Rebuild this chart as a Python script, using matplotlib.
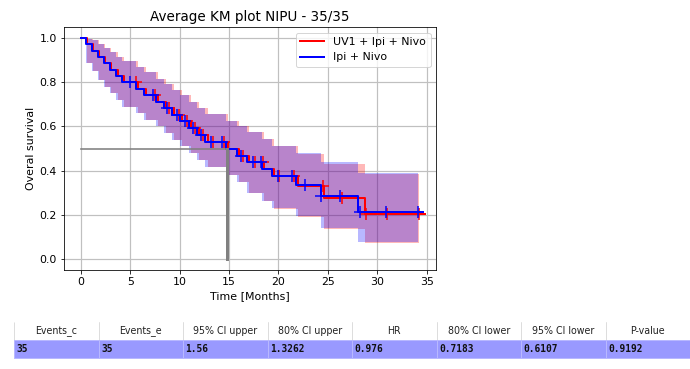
import matplotlib
matplotlib.use('Agg')
import matplotlib.pyplot as plt
import numpy as np

# KM step data
t_ipi = [0.0, 0.5, 1.1, 1.7, 2.3, 2.9, 3.5, 4.2, 5.6, 6.4, 7.6, 8.4, 9.2, 10.0, 10.9,
         11.7, 12.6, 14.7, 15.8, 16.8, 18.3, 19.3, 21.8, 24.3, 28.1, 34.15]
s_ipi = [1.0, 0.971, 0.943, 0.914, 0.886, 0.857, 0.829, 0.800, 0.771, 0.742, 0.712, 0.683,
         0.653, 0.623, 0.592, 0.561, 0.530, 0.498, 0.467, 0.437, 0.406, 0.376, 0.333,
         0.284, 0.213, 0.213]
lo_ipi = [1.0, 0.887, 0.85, 0.81, 0.78, 0.75, 0.72, 0.69, 0.66, 0.63, 0.60, 0.57, 0.54,
          0.51, 0.48, 0.45, 0.415, 0.38, 0.35, 0.30, 0.262, 0.231, 0.193, 0.14, 0.076, 0.076]
hi_ipi = [1.0, 0.997, 0.99, 0.975, 0.955, 0.935, 0.915, 0.895, 0.87, 0.845, 0.815, 0.79,
          0.765, 0.74, 0.71, 0.685, 0.655, 0.625, 0.60, 0.574, 0.543, 0.513, 0.478, 0.437,
          0.391, 0.391]
end_ipi = 34.6
cens_t_ipi = [5.0, 7.3, 8.7, 9.7, 10.5, 11.3, 12.2, 13.2, 14.3, 16.2, 17.4, 18.2, 19.9,
              21.4, 22.7, 24.3, 26.2, 28.3, 30.9, 34.15]

t_uv1 = [0.0, 0.6, 1.2, 1.8, 2.4, 3.0, 3.7, 4.4, 5.8, 6.6, 7.8, 8.6, 9.4, 10.2, 11.1,
         11.9, 12.9, 14.9, 16.0, 17.0, 18.5, 19.5, 22.0, 24.6, 28.8, 34.2]
s_uv1 = [1.0, 0.971, 0.943, 0.914, 0.886, 0.857, 0.829, 0.800, 0.771, 0.742, 0.712, 0.683,
         0.653, 0.623, 0.592, 0.561, 0.530, 0.498, 0.467, 0.437, 0.406, 0.374, 0.330,
         0.277, 0.204, 0.204]
lo_uv1 = [1.0, 0.887, 0.85, 0.81, 0.78, 0.75, 0.72, 0.69, 0.66, 0.63, 0.60, 0.57, 0.54,
          0.51, 0.48, 0.45, 0.415, 0.38, 0.35, 0.30, 0.262, 0.228, 0.19, 0.137, 0.07, 0.07]
hi_uv1 = [1.0, 0.997, 0.99, 0.975, 0.955, 0.935, 0.915, 0.895, 0.87, 0.845, 0.815, 0.79,
          0.765, 0.74, 0.71, 0.685, 0.655, 0.625, 0.60, 0.574, 0.543, 0.513, 0.475, 0.43,
          0.386, 0.386]
end_uv1 = 34.8
cens_t_uv1 = [5.6, 7.5, 8.9, 9.9, 10.7, 11.5, 12.4, 13.4, 14.5, 16.4, 17.6, 18.4, 20.1,
              21.6, 24.5, 26.4, 28.9, 31.0, 34.2]

median_t = 14.8
median_s = 0.5

col_labels = ['Events_c', 'Events_e', '95% CI upper', '80% CI upper', 'HR',
              '80% CI lower', '95% CI lower', 'P-value']
row_values = ['35', '35', '1.56', '1.3262', '0.976', '0.7183', '0.6107', '0.9192']


def at(ts, ss, x):
    i = np.searchsorted(ts, x, side='right') - 1
    return ss[i]


plt.rcParams['font.size'] = 11
fig = plt.figure(figsize=(690 / 72, 369 / 72), dpi=72)
ax = fig.add_axes([64 / 690, 1 - 270 / 369, 372 / 690, 243 / 369])

for t, s, lo, hi, end, ct, col, lab in [
        (t_uv1, s_uv1, lo_uv1, hi_uv1, end_uv1, cens_t_uv1, 'red', 'UV1 + Ipi + Nivo'),
        (t_ipi, s_ipi, lo_ipi, hi_ipi, end_ipi, cens_t_ipi, 'blue', 'Ipi + Nivo')]:
    ax.fill_between(t, lo, hi, step='post', color=col, alpha=0.28, lw=0)
    ax.step(t + [end], s + [s[-1]], where='post', color=col, lw=2, label=lab)
    cs = [at(t, s, c) for c in ct]
    ax.plot(ct, cs, '+', color=col, ms=12, mew=1.5, ls='none')

ax.plot([0, median_t], [median_s, median_s], color='gray', lw=1.6)
ax.plot([median_t, median_t], [0, median_s], color='gray', lw=3)

ax.set_xlim(-1.72, 35.95)
ax.set_ylim(-0.05, 1.05)
ax.set_xticks(range(0, 36, 5))
ax.grid(True, color='#c0c0c0', lw=1.2)
ax.set_axisbelow(True)
ax.set_title('Average KM plot NIPU - 35/35', fontsize=13.5)
ax.set_xlabel('Time [Months]')
ax.set_ylabel('Overal survival')
ax.legend(loc='upper right', handlelength=2.2)

# results table under the chart
tax = fig.add_axes([0, 0, 1, 1])
tax.axis('off')
tab = tax.table(cellText=[row_values], colLabels=col_labels, cellLoc='left', colLoc='center',
                bbox=[14 / 690, 1 - 358 / 369, 676 / 690, 36 / 369])
tab.auto_set_font_size(False)
tab.set_fontsize(9.5)
for (r, c), cell in tab.get_celld().items():
    cell.PAD = 0.03
    if r == 0:
        cell.set_facecolor('white')
        cell.set_edgecolor('#dddddd')
        cell.visible_edges = 'LR'
        cell.get_text().set_color('#222222')
    else:
        cell.set_facecolor('#9999ff')
        cell.set_edgecolor('#b8b8ff')
        cell.get_text().set_family('DejaVu Sans Mono')
        cell.get_text().set_fontweight('bold')
        cell.get_text().set_color('#111111')

fig.savefig('out.png', dpi=72)
